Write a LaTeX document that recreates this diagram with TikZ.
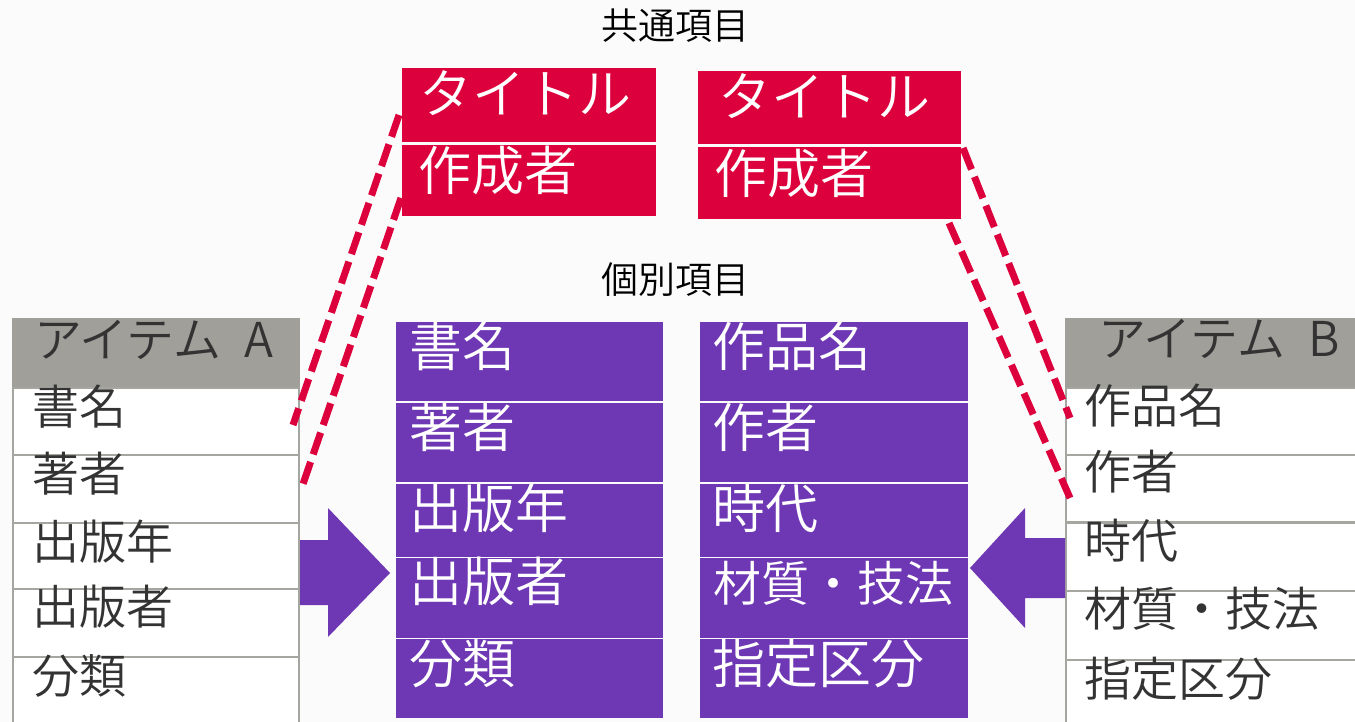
\documentclass[tikz,border=0pt]{standalone}
\usepackage{fontspec}
\setmainfont{Noto Sans CJK JP}[UprightFont={* DemiLight}]
\definecolor{bg}{HTML}{FBFBFB}
\definecolor{crim}{HTML}{DC003C}
\definecolor{pur}{HTML}{6E37B4}
\definecolor{hdr}{HTML}{A19F99}
\definecolor{bord}{HTML}{A6A6A1}
\definecolor{ink}{HTML}{333333}
\tikzset{
  box/.style={anchor=north west, inner sep=0pt, outer sep=0pt},
  pcell/.style={box, fill=pur},
  rcell/.style={box, fill=crim},
  tcell/.style={box, fill=white, draw=bord, line width=2.5pt},
  hcell/.style={box, fill=hdr},
  wtxt/.style={anchor=base west, inner sep=0pt, text=white},
  ktxt/.style={anchor=base west, inner sep=0pt, text=ink},
  ttl/.style={anchor=base, inner sep=0pt, text=black, font=\fontsize{37pt}{40pt}\selectfont},
  pfont/.style={font=\fontsize{53pt}{56pt}\selectfont},
  rfont/.style={font=\fontsize{53pt}{56pt}\selectfont},
  kfont/.style={font=\fontsize{47pt}{50pt}\selectfont},
  hfont/.style={font=\fontsize{48pt}{50pt}\selectfont},
  dashlink/.style={draw=crim, line width=7pt, dash pattern=on 23pt off 8pt},
  blockarrow/.style={fill=pur}
}
\begin{document}
\begin{tikzpicture}[x=1pt,y=-1pt]
\useasboundingbox[fill=bg] (0,0) rectangle (1355,722);

% titles
\node[ttl] (t1) at (675,40) {共通項目};
\node[ttl] (t2) at (675,294) {個別項目};

% red boxes
\node[rcell, minimum width=254, minimum height=74] (rl1) at (402,68) {};
\node[rcell, minimum width=254, minimum height=71] (rl2) at (402,145) {};
\node[rcell, minimum width=263, minimum height=73] (rr1) at (698,71) {};
\node[rcell, minimum width=263, minimum height=72] (rr2) at (698,147) {};
\node[wtxt, rfont] (rlt1) at (419,114) {タイトル};
\node[wtxt, rfont] (rlt2) at (418,191) {作成者};
\node[wtxt, rfont] (rrt1) at (718,117) {タイトル};
\node[wtxt, rfont] (rrt2) at (714,194) {作成者};

% purple columns
\node[pcell, minimum width=267, minimum height=79] (pa1) at (396,322) {};
\node[pcell, minimum width=267, minimum height=79] (pa2) at (396,403) {};
\node[pcell, minimum width=267, minimum height=73] (pa3) at (396,484) {};
\node[pcell, minimum width=267, minimum height=80] (pa4) at (396,558) {};
\node[pcell, minimum width=267, minimum height=79] (pa5) at (396,639) {};
\node[pcell, minimum width=268, minimum height=79] (pb1) at (700,322) {};
\node[pcell, minimum width=268, minimum height=79] (pb2) at (700,403) {};
\node[pcell, minimum width=268, minimum height=73] (pb3) at (700,484) {};
\node[pcell, minimum width=268, minimum height=80] (pb4) at (700,558) {};
\node[pcell, minimum width=268, minimum height=79] (pb5) at (700,639) {};

\node[wtxt, pfont] (pat1) at (409,366) {書名};
\node[wtxt, pfont] (pat2) at (409,447) {著者};
\node[wtxt, pfont] (pat3) at (409,528) {出版年};
\node[wtxt, pfont] (pat4) at (409,601) {出版者};
\node[wtxt, pfont] (pat5) at (409,683) {分類};
\node[wtxt, pfont] (pbt1) at (712,366) {作品名};
\node[wtxt, pfont] (pbt2) at (712,447) {作者};
\node[wtxt, pfont] (pbt3) at (712,528) {時代};
\node[wtxt, font=\fontsize{48pt}{52pt}\selectfont] (pbt4) at (713,601) {材質・技法};
\node[wtxt, pfont] (pbt5) at (712,683) {指定区分};

% table A
\node[hcell, minimum width=288, minimum height=70] (ha) at (12,318) {};
\node[tcell, minimum width=286, minimum height=67] (a1) at (13,388) {};
\node[tcell, minimum width=286, minimum height=68] (a2) at (13,455) {};
\node[tcell, minimum width=286, minimum height=66] (a3) at (13,523) {};
\node[tcell, minimum width=286, minimum height=68] (a4) at (13,589) {};
\node[tcell, minimum width=286, minimum height=80] (a5) at (13,657) {};
\node[ktxt, hfont] (hat) at (34,357) {アイテム\hspace{12pt} A};
\node[ktxt, kfont] (at1) at (32,424) {書名};
\node[ktxt, kfont] (at2) at (32,491) {著者};
\node[ktxt, kfont] (at3) at (32,559) {出版年};
\node[ktxt, kfont] (at4) at (32,624) {出版者};
\node[ktxt, kfont] (at5) at (32,693) {分類};

% table B
\node[hcell, minimum width=300, minimum height=70] (hb) at (1065,318) {};
\node[tcell, minimum width=300, minimum height=67] (b1) at (1066,388) {};
\node[tcell, minimum width=300, minimum height=67] (b2) at (1066,455) {};
\node[tcell, minimum width=300, minimum height=68] (b3) at (1066,523) {};
\node[tcell, minimum width=300, minimum height=69] (b4) at (1066,591) {};
\node[tcell, minimum width=300, minimum height=80] (b5) at (1066,660) {};
\node[ktxt, hfont] (hbt) at (1098,356) {アイテム\hspace{12pt} B};
\node[ktxt, kfont] (bt1) at (1084,423) {作品名};
\node[ktxt, kfont] (bt2) at (1084,489) {作者};
\node[ktxt, kfont] (bt3) at (1084,558) {時代};
\node[ktxt, kfont] (bt4) at (1084,626) {材質・技法};
\node[ktxt, kfont] (bt5) at (1084,696) {指定区分};

% block arrows
\fill[blockarrow] (300,540) -- (328,540) -- (328,508) -- (390,573) -- (328,637) -- (328,605) -- (300,605) -- cycle;
\fill[blockarrow] (1065,538) -- (1025,538) -- (1025,508) -- (970,568) -- (1025,628) -- (1025,598) -- (1065,598) -- cycle;

% dashed links
\coordinate (l1s) at (399,115);
\coordinate (l1e) at (293,425);
\coordinate (l2s) at (401,198);
\coordinate (l2e) at (302,487);
\coordinate (r1s) at (963,148);
\coordinate (r1e) at (1070,418);
\coordinate (r2s) at (949,223);
\coordinate (r2e) at (1070,498);
\draw[dashlink] (l1s) -- (l1e);
\draw[dashlink] (l2s) -- (l2e);
\draw[dashlink] (r1s) -- (r1e);
\draw[dashlink] (r2s) -- (r2e);
\end{tikzpicture}
\end{document}
